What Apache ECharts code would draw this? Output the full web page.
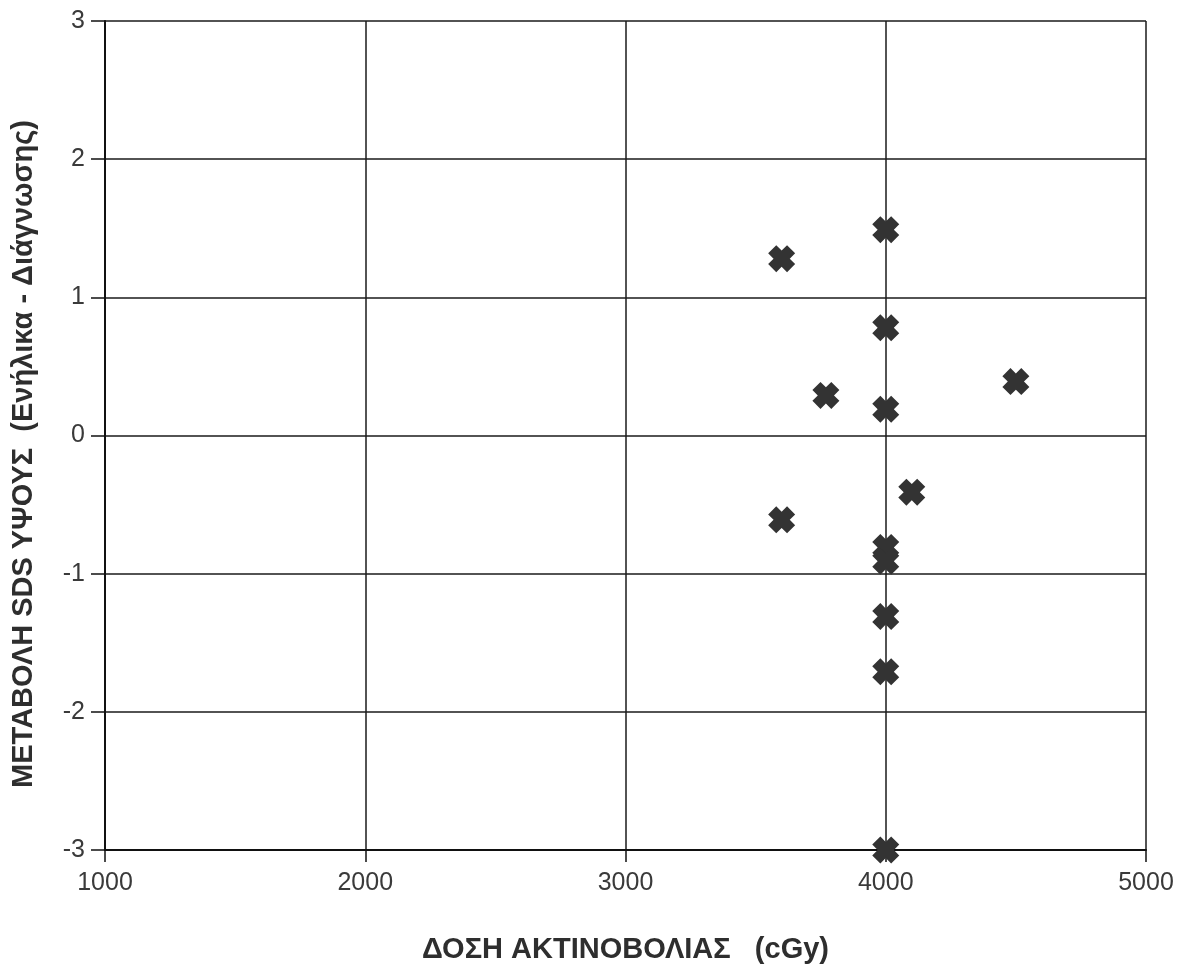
<!DOCTYPE html>
<html><head><meta charset="utf-8">
<script src="https://cdn.jsdelivr.net/npm/echarts@6/dist/echarts.min.js"></script>
<style>html,body{margin:0;padding:0;background:#fff}#c{width:1189px;height:973px}</style>
</head><body><div id="c"></div>
<script>
const doseValues = [3600, 4000, 4000, 4000, 3770, 4500, 4100, 3600, 4000, 4000, 4000, 4000, 4000];
const sdsChange = [1.28, 1.49, 0.78, 0.19, 0.29, 0.39, -0.41, -0.61, -0.81, -0.91, -1.31, -1.71, -3.0];
const xTitle = 'ΔΟΣΗ ΑΚΤΙΝΟΒΟΛΙΑΣ   (cGy)';
const yTitle = 'ΜΕΤΑΒΟΛΗ SDS ΥΨΟΥΣ  (Ενήλικα - Διάγνωσης)';

const chart = echarts.init(document.getElementById('c'), null, {renderer: 'canvas'});
const pts = doseValues.map((x, i) => [x, sdsChange[i]]);
const tickFont = {fontFamily: 'Liberation Sans, Arial, sans-serif', fontSize: 25, color: '#3a3a3a'};
chart.setOption({
  backgroundColor: '#ffffff',
  animation: false,
  grid: {left: 105, right: 43, top: 21, bottom: 123, containLabel: false},
  xAxis: {
    type: 'value', min: 1000, max: 5000, interval: 1000,
    name: xTitle, nameLocation: 'middle', nameGap: 85,
    nameTextStyle: {fontFamily: 'Liberation Sans, Arial, sans-serif', fontWeight: 'bold', fontSize: 29, color: '#2e2e2e'},
    axisLine: {show: true, onZero: false, lineStyle: {color: '#111', width: 2}},
    axisTick: {show: true, inside: false, length: 12, lineStyle: {color: '#111', width: 1.5}},
    axisLabel: Object.assign({margin: 21, formatter: v => String(v)}, tickFont),
    splitLine: {show: true, lineStyle: {color: '#1a1a1a', width: 1.5}}
  },
  yAxis: {
    type: 'value', min: -3, max: 3, interval: 1,
    axisLine: {show: true, onZero: false, lineStyle: {color: '#111', width: 2}},
    axisTick: {show: true, inside: false, length: 14, lineStyle: {color: '#111', width: 1.5}},
    axisLabel: Object.assign({margin: 20, formatter: v => String(v)}, tickFont),
    splitLine: {show: true, lineStyle: {color: '#1a1a1a', width: 1.5}}
  },
  graphic: [{
    type: 'text',
    x: 24, y: 454,
    rotation: Math.PI / 2,
    style: {
      text: yTitle,
      font: 'bold 29px "Liberation Sans", Arial, sans-serif',
      fill: '#2e2e2e',
      align: 'center', verticalAlign: 'middle',
      textAlign: 'center', textVerticalAlign: 'middle'
    }
  }],
  series: [{
    type: 'scatter',
    data: pts,
    symbol: 'path://M3,0 L5,2 L7,0 L10,3 L8,5 L10,7 L7,10 L5,8 L3,10 L0,7 L2,5 L0,3 Z',
    symbolSize: 27,
    itemStyle: {color: '#333333', opacity: 1},
    z: 5
  }]
});
</script></body></html>
